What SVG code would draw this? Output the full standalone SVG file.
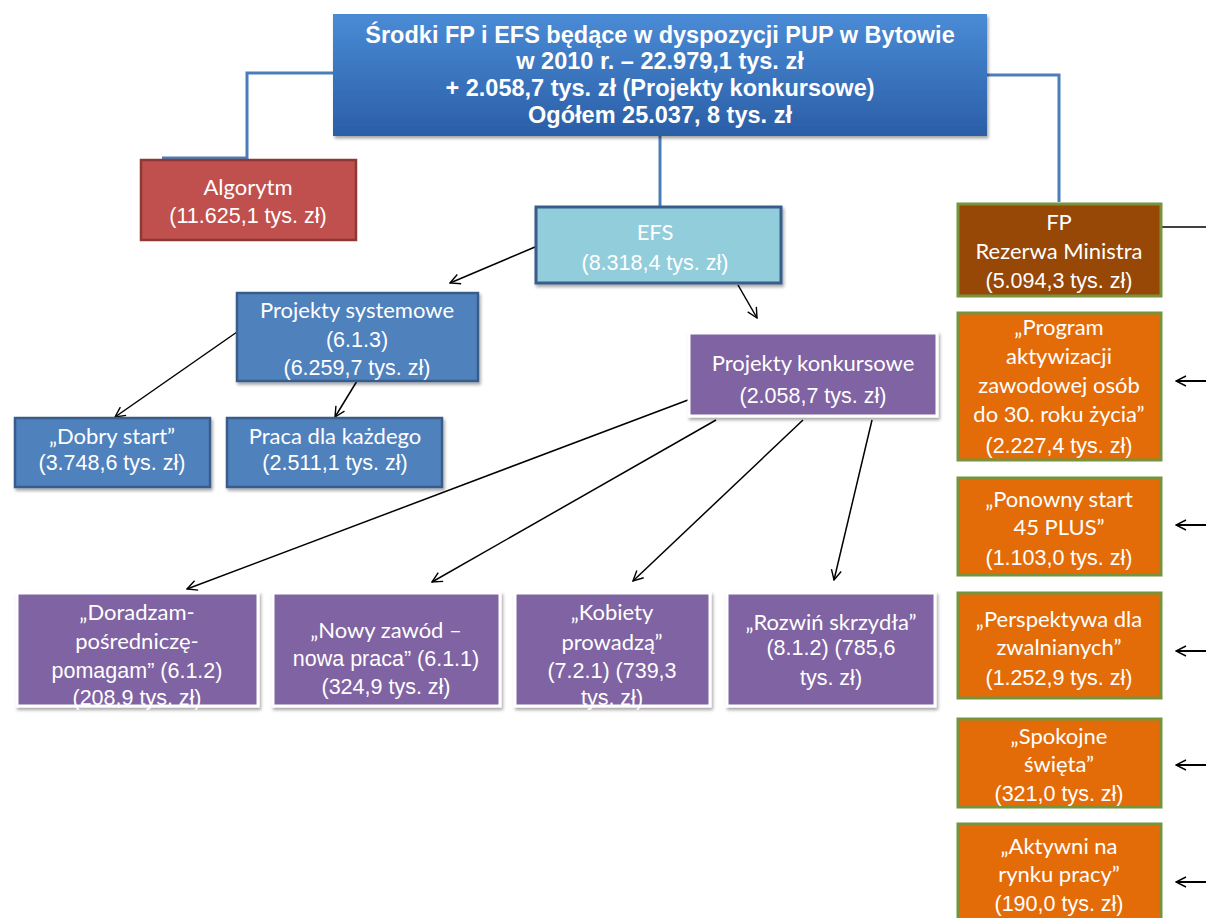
<svg xmlns="http://www.w3.org/2000/svg" width="1206" height="918" viewBox="0 0 1206 918">
<defs>
<linearGradient id="gMain" x1="0" y1="0" x2="0" y2="1">
<stop offset="0" stop-color="#4a8bd6"/>
<stop offset="1" stop-color="#2a5ea6"/>
</linearGradient>
<filter id="sh" x="-10%" y="-10%" width="125%" height="130%">
<feDropShadow dx="1.5" dy="2.5" stdDeviation="1.8" flood-color="#000" flood-opacity="0.35"/>
</filter>
<marker id="arr" viewBox="0 0 12 12" refX="11" refY="6" markerWidth="12" markerHeight="12" markerUnits="userSpaceOnUse" orient="auto">
<path d="M1,1 L11,6 L1,11" fill="none" stroke="#000" stroke-width="1.4"/>
</marker>
</defs>
<style>
.ar{font-family:"Liberation Sans",Arial,sans-serif;fill:#fff;text-anchor:middle;font-size:21.5px}
.ca{font-family:Lato,"Open Sans",sans-serif;fill:#fff;text-anchor:middle;font-size:22px}
.bd{font-family:"Liberation Sans",Arial,sans-serif;font-weight:bold;fill:#fff;text-anchor:middle;font-size:23.5px}
.blue{fill:none;stroke:#4a7ebb;stroke-width:3}
.con{fill:none;stroke:#000;stroke-width:1.5;marker-end:url(#arr)}
.conr{fill:none;stroke:#000;stroke-width:2;marker-end:url(#arr)}
.org{fill:#e36c09;stroke:#77933c;stroke-width:3}
.pur{fill:#8064a2;stroke:#fff;stroke-width:3;filter:url(#sh)}
.sb{fill:#4f81bd;stroke:#385d8a;stroke-width:2.5;filter:url(#sh)}
</style>
<rect width="1206" height="918" fill="#fff"/>
<g id="connectors">
<polyline class="blue" points="333,73 247,73 247,158 162,158"/>
<polyline class="blue" points="987,75 1059,75 1059,202"/>
<line class="blue" x1="660" y1="136" x2="660" y2="206" stroke-width="1.5"/>
<line x1="1161" y1="227" x2="1206" y2="227" stroke="#000" stroke-width="1.5"/>
<line class="con" x1="535" y1="247" x2="450" y2="283"/>
<line class="con" x1="738" y1="285" x2="757" y2="318"/>
<line class="con" x1="237" y1="332" x2="115" y2="417"/>
<line class="con" x1="357" y1="381" x2="335" y2="417"/>
<line class="con" x1="688" y1="400" x2="187" y2="589"/>
<line class="con" x1="716" y1="420" x2="432" y2="582"/>
<line class="con" x1="803" y1="420" x2="633" y2="581"/>
<line class="con" x1="872" y1="420" x2="834" y2="580"/>
<line class="conr" x1="1206" y1="381" x2="1176" y2="381"/>
<line class="conr" x1="1206" y1="525" x2="1176" y2="525"/>
<line class="conr" x1="1206" y1="651" x2="1176" y2="651"/>
<line class="conr" x1="1206" y1="765" x2="1176" y2="765"/>
<line class="conr" x1="1206" y1="882" x2="1176" y2="882"/>
</g>
<g id="main">
<rect x="333" y="14" width="654" height="122" fill="url(#gMain)" filter="url(#sh)"/>
<text class="bd" x="660" y="43">Środki FP i EFS będące w dyspozycji PUP w Bytowie</text>
<text class="bd" x="660" y="69">w 2010 r. – 22.979,1 tys. zł</text>
<text class="bd" x="660" y="96">+ 2.058,7 tys. zł (Projekty konkursowe)</text>
<text class="bd" x="660" y="123">Ogółem 25.037, 8 tys. zł</text>
</g>
<g id="algorytm">
<rect x="141" y="160" width="215" height="80" fill="#c0504d" stroke="#8c3836" stroke-width="2.5"/>
<text class="ca" x="248" y="195">Algorytm</text>
<text class="ar" x="248" y="223">(11.625,1 tys. zł)</text>
</g>
<g id="efs">
<rect x="536" y="207" width="245" height="76" fill="#92cddc" stroke="#385d8a" stroke-width="3" filter="url(#sh)"/>
<text class="ca" x="655" y="240">EFS</text>
<text class="ar" x="655" y="270">(8.318,4 tys. zł)</text>
</g>
<g id="fp">
<rect x="958" y="204" width="203" height="92" fill="#974706" stroke="#77933c" stroke-width="3"/>
<text class="ca" x="1059" y="230">FP</text>
<text class="ca" x="1059" y="259">Rezerwa Ministra</text>
<text class="ar" x="1059" y="288">(5.094,3 tys. zł)</text>
</g>
<g id="fp1">
<rect class="org" x="958" y="313" width="203" height="147"/>
<text class="ca" x="1059" y="335">„Program</text>
<text class="ca" x="1059" y="364">aktywizacji</text>
<text class="ca" x="1059" y="393">zawodowej  osób</text>
<text class="ca" x="1059" y="422">do 30. roku życia”</text>
<text class="ar" x="1059" y="453">(2.227,4 tys. zł)</text>
</g>
<g id="fp2">
<rect class="org" x="958" y="478" width="203" height="97"/>
<text class="ca" x="1059" y="507">„Ponowny start</text>
<text class="ca" x="1059" y="535">45 PLUS”</text>
<text class="ar" x="1059" y="565">(1.103,0 tys. zł)</text>
</g>
<g id="fp3">
<rect class="org" x="958" y="593" width="203" height="105"/>
<text class="ca" x="1059" y="627">„Perspektywa dla</text>
<text class="ca" x="1059" y="655">zwalnianych”</text>
<text class="ar" x="1059" y="685">(1.252,9 tys. zł)</text>
</g>
<g id="fp4">
<rect class="org" x="958" y="719" width="203" height="88"/>
<text class="ca" x="1059" y="744">„Spokojne</text>
<text class="ca" x="1059" y="772">święta”</text>
<text class="ar" x="1059" y="801">(321,0 tys. zł)</text>
</g>
<g id="fp5">
<rect class="org" x="958" y="824" width="203" height="110"/>
<text class="ca" x="1059" y="854">„Aktywni na</text>
<text class="ca" x="1059" y="882">rynku pracy”</text>
<text class="ar" x="1059" y="911">(190,0 tys. zł)</text>
</g>
<g id="systemowe">
<rect class="sb" x="237" y="293" width="241" height="88"/>
<text class="ca" x="357" y="318">Projekty systemowe</text>
<text class="ar" x="357" y="347">(6.1.3)</text>
<text class="ar" x="357" y="375">(6.259,7 tys. zł)</text>
</g>
<g id="dobry">
<rect class="sb" x="15" y="418" width="195" height="69"/>
<text class="ca" x="112" y="444">„Dobry start”</text>
<text class="ar" x="112" y="470">(3.748,6 tys. zł)</text>
</g>
<g id="praca">
<rect class="sb" x="227" y="418" width="215" height="69"/>
<text class="ca" x="335" y="444">Praca dla każdego</text>
<text class="ar" x="335" y="470">(2.511,1 tys. zł)</text>
</g>
<g id="konkursowe">
<rect class="pur" x="689" y="333" width="248" height="83"/>
<text class="ca" x="813" y="371">Projekty konkursowe</text>
<text class="ar" x="813" y="403">(2.058,7 tys. zł)</text>
</g>
<g id="doradzam">
<rect class="pur" x="17" y="593" width="241" height="113"/>
<text class="ca" x="137" y="620">„Doradzam-</text>
<text class="ca" x="137" y="649">pośredniczę-</text>
<text class="ar" x="137" y="678">pomagam” (6.1.2)</text>
<text class="ar" x="137" y="705">(208,9 tys. zł)</text>
</g>
<g id="nowy">
<rect class="pur" x="273" y="593" width="227" height="113"/>
<text class="ca" x="386" y="638">„Nowy zawód –</text>
<text class="ar" x="386" y="666">nowa praca” (6.1.1)</text>
<text class="ar" x="386" y="694">(324,9 tys. zł)</text>
</g>
<g id="kobiety">
<rect class="pur" x="515" y="593" width="195" height="113"/>
<text class="ca" x="612" y="620">„Kobiety</text>
<text class="ca" x="612" y="650">prowadzą”</text>
<text class="ar" x="612" y="678">(7.2.1) (739,3</text>
<text class="ar" x="612" y="705">tys. zł)</text>
</g>
<g id="rozwin">
<rect class="pur" x="727" y="593" width="208" height="113"/>
<text class="ca" x="831" y="630">„Rozwiń skrzydła”</text>
<text class="ar" x="831" y="655">(8.1.2) (785,6</text>
<text class="ar" x="831" y="685">tys. zł)</text>
</g>
</svg>
